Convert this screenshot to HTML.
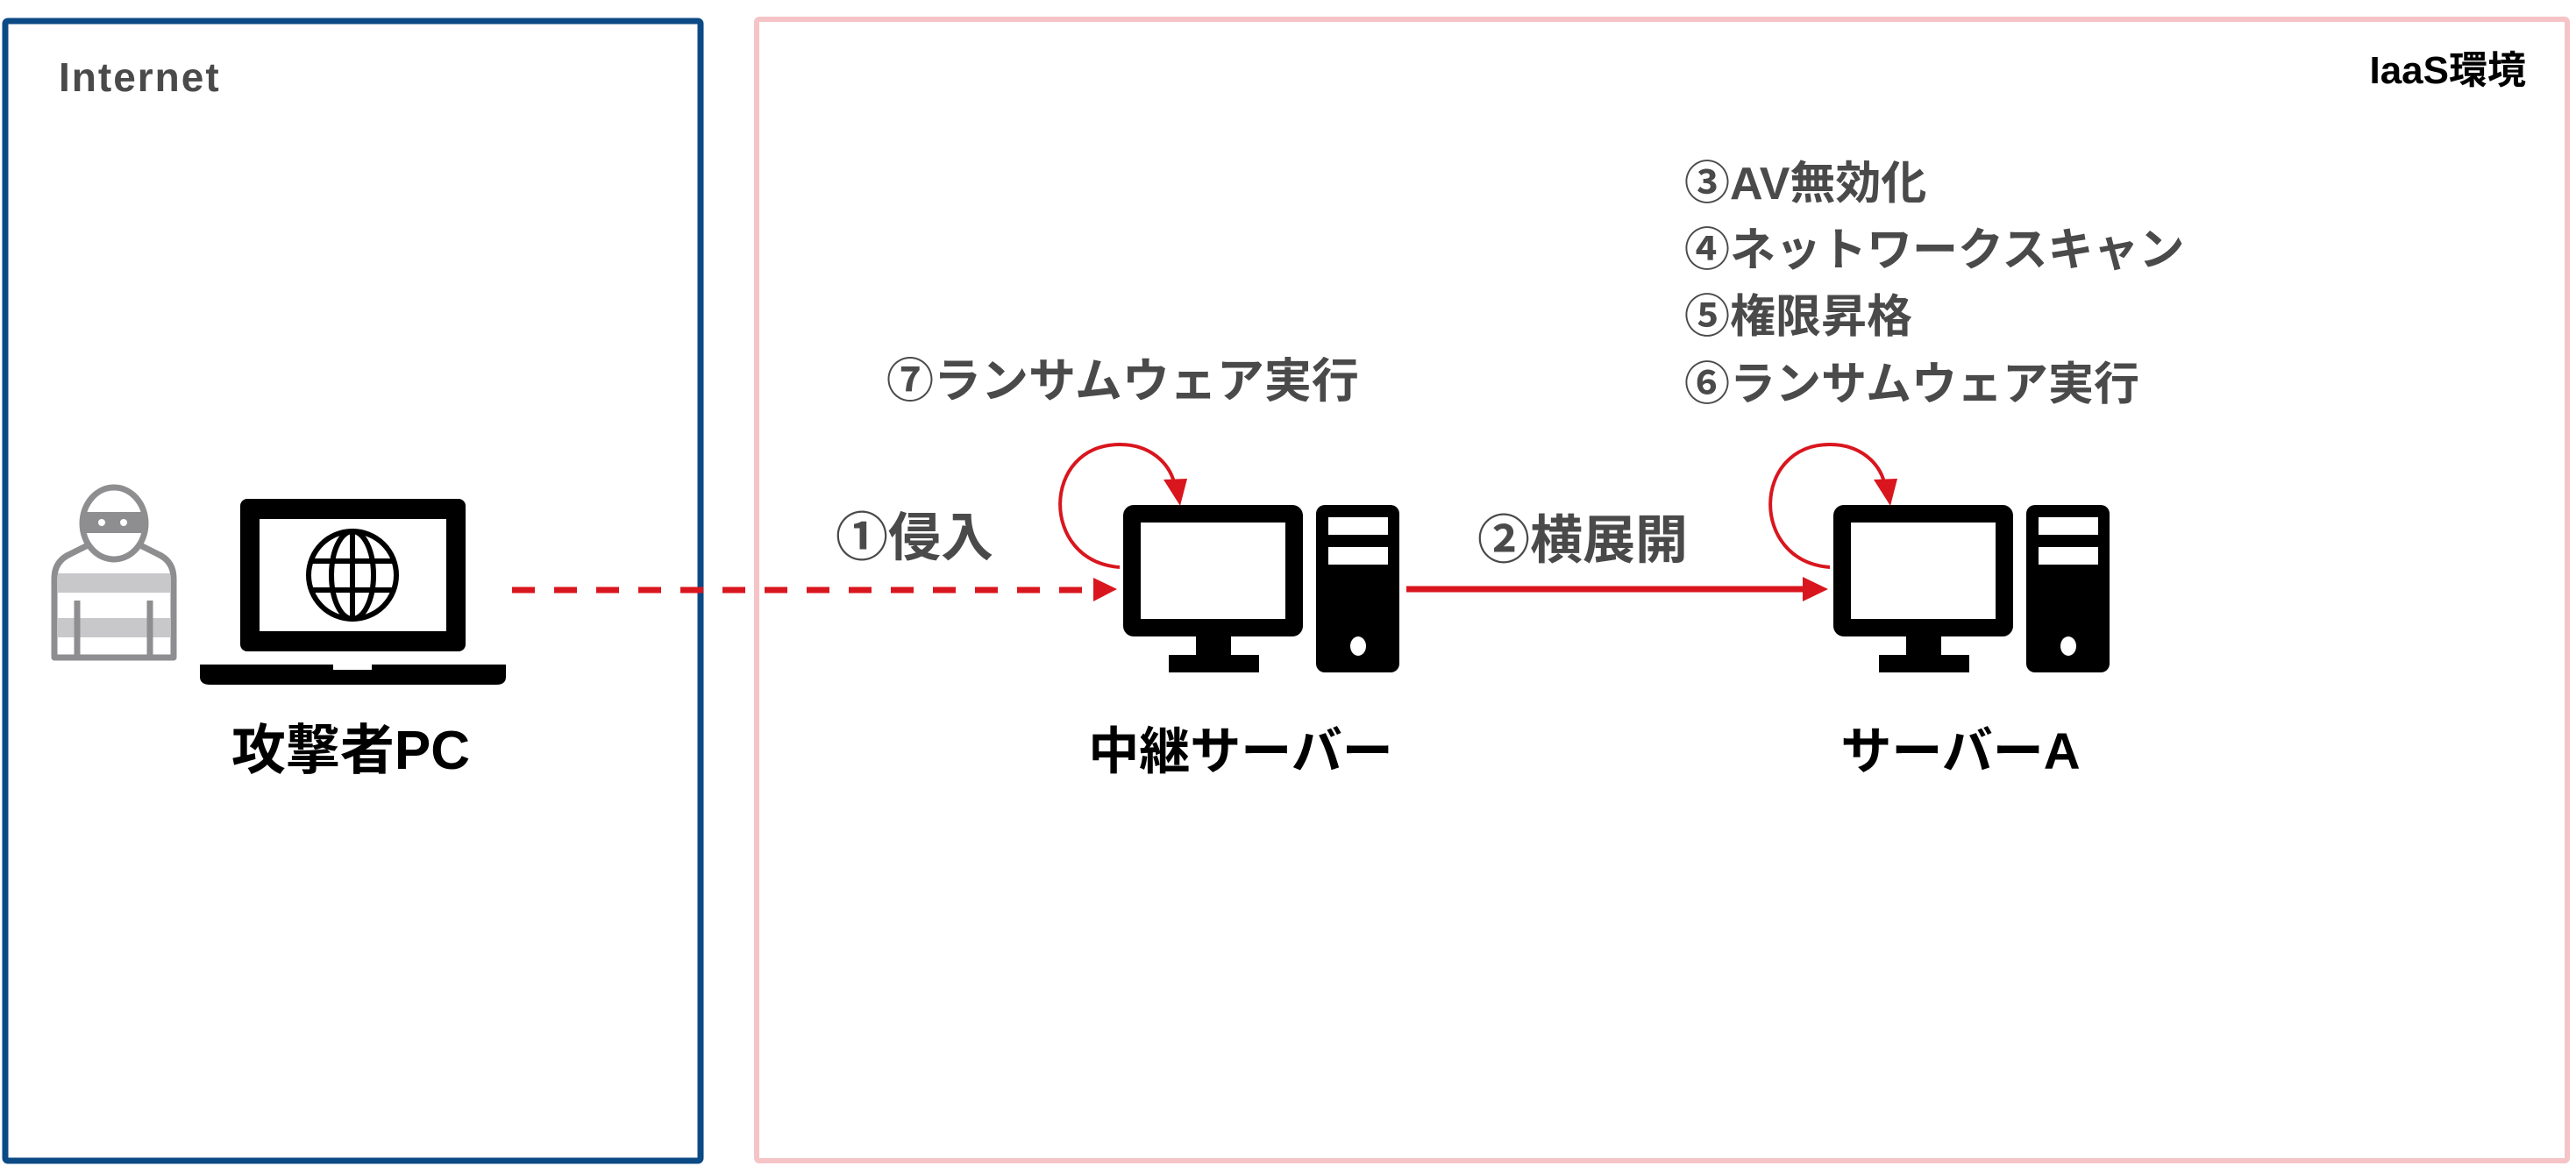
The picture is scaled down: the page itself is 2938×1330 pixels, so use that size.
<!DOCTYPE html>
<html><head><meta charset="utf-8"><style>
html,body{margin:0;padding:0;background:#fff;}
svg{display:block;}
text{font-family:"Liberation Sans","Noto Sans CJK JP",sans-serif;font-weight:bold;}
</style></head><body>
<svg width="2938" height="1330" viewBox="0 0 2938 1330" xmlns="http://www.w3.org/2000/svg">
<rect x="6" y="24" width="793" height="1300" fill="none" stroke="#0b4a85" stroke-width="7" rx="3"/>
<rect x="863" y="22" width="2065" height="1302" fill="none" stroke="#f6c4c6" stroke-width="6" rx="3"/>
<text x="67" y="104" font-size="46" fill="#4a4a4a" letter-spacing="2">Internet</text>
<text x="2881" y="95" font-size="44" fill="#000" text-anchor="end">IaaS環境</text>

<!-- thief -->
<g>
<path d="M62,750 L62,660 Q62,640 80,632 L108,618 L152,618 L180,632 Q198,640 198,660 L198,750 Z" fill="#fff" stroke="#8e8e90" stroke-width="7" stroke-linejoin="round"/>
<rect x="66" y="654" width="128" height="22" fill="#c8c8ca"/>
<rect x="66" y="705" width="128" height="22" fill="#c8c8ca"/>
<line x1="88" y1="685" x2="88" y2="750" stroke="#8e8e90" stroke-width="7"/>
<line x1="171" y1="685" x2="171" y2="750" stroke="#8e8e90" stroke-width="7"/>
<ellipse cx="130" cy="597" rx="36" ry="41" fill="#fff" stroke="#8e8e90" stroke-width="7"/>
<path d="M96,584 L164,584 L166,608 L94,608 Z" fill="#8e8e90"/>
<circle cx="116" cy="596" r="4" fill="#fff"/><circle cx="141" cy="596" r="4" fill="#fff"/>
</g>

<!-- laptop -->
<rect x="274" y="569" width="257" height="174" rx="8" fill="#000"/>
<rect x="296" y="592" width="213" height="128" fill="#fff"/>
<path d="M228,758 L577,758 L577,772 Q577,781 566,781 L240,781 Q228,781 228,772 Z" fill="#000"/>
<rect x="380" y="758" width="44" height="6" fill="#fff"/>
<g fill="none" stroke="#000" stroke-width="6">
<ellipse cx="402" cy="656" rx="50" ry="50"/>
<ellipse cx="402" cy="656" rx="24" ry="50"/>
<line x1="402" y1="606" x2="402" y2="706"/>
<line x1="355" y1="640" x2="449" y2="640"/>
<line x1="355" y1="673" x2="449" y2="673"/>
</g>
<text x="400" y="877" font-size="62" fill="#000" text-anchor="middle">攻撃者PC</text>

<!-- servers -->
<g id="srv">
<rect x="1281" y="576" width="205" height="150" rx="12" fill="#000"/>
<rect x="1301" y="596" width="165" height="110" fill="#fff"/>
<rect x="1364" y="724" width="40" height="25" fill="#000"/>
<rect x="1333" y="747" width="103" height="20" fill="#000"/>
<rect x="1501" y="576" width="95" height="191" rx="10" fill="#000"/>
<rect x="1515" y="590" width="68" height="20" fill="#fff"/>
<rect x="1515" y="624" width="68" height="20" fill="#fff"/>
<ellipse cx="1549" cy="737" rx="9" ry="11" fill="#fff"/>
<path d="M1277,647 C1185,640 1188,507 1277,507 C1312,507 1333,528 1339,550" fill="none" stroke="#d9161e" stroke-width="4"/>
<polygon points="1327,547 1354,546 1346,577" fill="#d9161e"/>
</g>
<use href="#srv" x="810" y="0"/>

<!-- arrows -->
<line x1="584" y1="673" x2="1248" y2="673" stroke="#d9161e" stroke-width="7" stroke-dasharray="26 22"/>
<polygon points="1247,659 1274,672 1247,686" fill="#d9161e"/>
<line x1="1604" y1="672" x2="2060" y2="672" stroke="#d9161e" stroke-width="7"/>
<polygon points="2056,658 2085,672 2056,686" fill="#d9161e"/>

<!-- labels -->
<g fill="#4a4a4a">
<text x="953" y="634" font-size="60">①侵入</text>
<text x="1011" y="453" font-size="54">⑦ランサムウェア実行</text>
<text x="1685" y="637" font-size="60">②横展開</text>
<g font-size="52">
<text x="1921" y="227">③AV無効化</text>
<text x="1921" y="303">④ネットワークスキャン</text>
<text x="1921" y="379">⑤権限昇格</text>
<text x="1921" y="456">⑥ランサムウェア実行</text>
</g>
</g>
<text x="1415" y="877" font-size="58" fill="#000" text-anchor="middle">中継サーバー</text>
<text x="2236" y="877" font-size="58" fill="#000" text-anchor="middle">サーバーA</text>
</svg>
</body></html>
